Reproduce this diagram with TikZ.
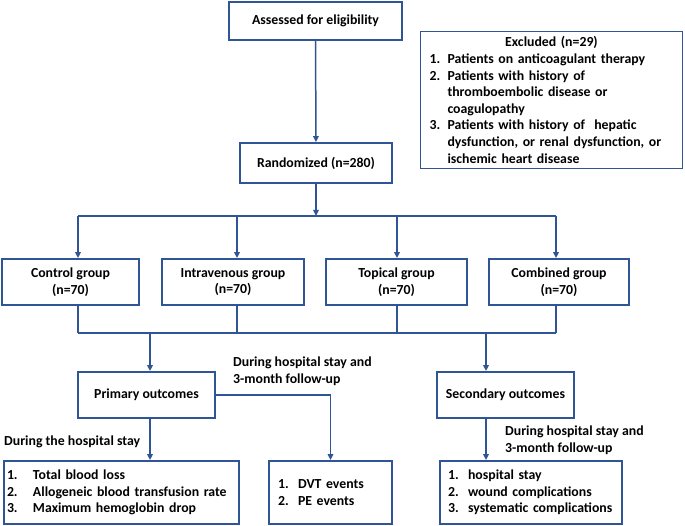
\documentclass[tikz,border=0pt]{standalone}
\usepackage{fontspec}
\setmainfont{Carlito}
\usetikzlibrary{arrows.meta,calc}
\definecolor{bl}{HTML}{2F5597}
\newlength{\numw}
\newcommand{\li}[2]{\mbox{\makebox[\numw][l]{#1}#2}}
\tikzset{
  box/.style={draw=bl, line width=1.8pt, fill=white, inner sep=0pt, align=center},
  lbox/.style={box, align=left},
  conn/.style={draw=bl, line width=1.5pt},
  arr/.style={conn, -{Triangle[length=6pt,width=5.5pt]}},
  lab/.style={inner sep=0pt, align=left, anchor=west}
}
\begin{document}
\begin{tikzpicture}[x=1pt,y=-1pt,font=\fontsize{13.8}{16.6}\selectfont\bfseries]
\useasboundingbox (0,0) rectangle (685,526);
% top
\node[box, minimum width=173pt, minimum height=38pt] (assess) at (315.5,21) {Assessed for eligibility};
\node[lbox, minimum height=137pt, text width=244pt, inner xsep=9pt] (excl) at (551.5,100)
 {\setlength{\numw}{18pt}\makebox[\linewidth]{Excluded (n=29)}\\
  \li{1.}{Patients on anticoagulant therapy}\\
  \li{2.}{Patients with history of}\\
  \li{}{thromboembolic disease or}\\
  \li{}{coagulopathy}\\
  \li{3.}{Patients with history of\ \ hepatic}\\
  \li{}{dysfunction, or renal dysfunction, or}\\
  \li{}{ischemic heart disease}};
\node[box, minimum width=152pt, minimum height=40pt] (rand) at (316,163) {Randomized (n=280)};
% groups
\node[box, minimum width=137pt, minimum height=46pt] (ctrl) at (70.5,282) {Control group\\(n=70)};
\node[box, minimum width=142pt, minimum height=46pt] (intra) at (233,282) {Intravenous group\\(n=70)};
\node[box, minimum width=141pt, minimum height=46pt] (topi) at (396.5,282) {Topical group\\(n=70)};
\node[box, minimum width=140pt, minimum height=46pt] (comb) at (559,282) {Combined group\\(n=70)};
% outcomes
\node[box, minimum width=137pt, minimum height=46pt] (prim) at (146.5,395) {Primary outcomes};
\node[box, minimum width=137pt, minimum height=46pt] (sec) at (505.5,395) {Secondary outcomes};
% lists
\node[lbox, minimum height=63pt, text width=229pt, inner xsep=3pt] (list1) at (121.5,492.5)
 {\setlength{\numw}{26pt}\li{1.}{Total blood loss}\\
  \li{2.}{Allogeneic blood transfusion rate}\\
  \li{3.}{Maximum hemoglobin drop}};
\node[lbox, minimum height=63pt, text width=105pt, inner xsep=9pt] (dvt) at (330.5,492.5)
 {\setlength{\numw}{20pt}\li{1.}{DVT events}\\
  \li{2.}{PE events}};
\node[lbox, minimum height=63pt, text width=166pt, inner xsep=8pt] (list3) at (531,492.5)
 {\setlength{\numw}{20pt}\li{1.}{hospital stay}\\
  \li{2.}{wound complications}\\
  \li{3.}{systematic complications}};
% labels
\node[lab] (lab1) at (233,371) {During hospital stay and\\3-month follow-up};
\node[lab] (lab2) at (4,442) {During the hospital stay};
\node[lab] (lab3) at (505,440) {During hospital stay and\\3-month follow-up};
% coordinates
\coordinate (tb) at (316,216);
\coordinate (t1) at (78,216);
\coordinate (t2) at (237,216);
\coordinate (t3) at (397,216);
\coordinate (t4) at (556,216);
\coordinate (b1) at (78,333);
\coordinate (b2) at (237,333);
\coordinate (b3) at (397,333);
\coordinate (b4) at (556,333);
\coordinate (bp) at (150,333);
\coordinate (bs) at (486,333);
\coordinate (pp) at (150,418);
\coordinate (ss) at (486,418);
% connectors
\draw[arr] (assess) -- (rand);
\draw[arr] (rand) -- (tb);
\draw[conn] (t1) -- (t4);
\foreach \t/\n in {t1/ctrl,t2/intra,t3/topi,t4/comb}{
  \draw[arr] (\t) -- (\t |- \n.north);
}
\foreach \b/\n in {b1/ctrl,b2/intra,b3/topi,b4/comb}{
  \draw[conn] (\b |- \n.south) -- (\b);
}
\draw[conn] (b1) -- (b4);
\draw[arr] (bp) -- (bp |- prim.north);
\draw[arr] (bs) -- (bs |- sec.north);
\draw[arr] (prim.east) -| (dvt.north);
\draw[arr] (pp |- prim.south) -- (pp |- list1.north);
\draw[arr] (ss |- sec.south) -- (ss |- list3.north);
\end{tikzpicture}
\end{document}
